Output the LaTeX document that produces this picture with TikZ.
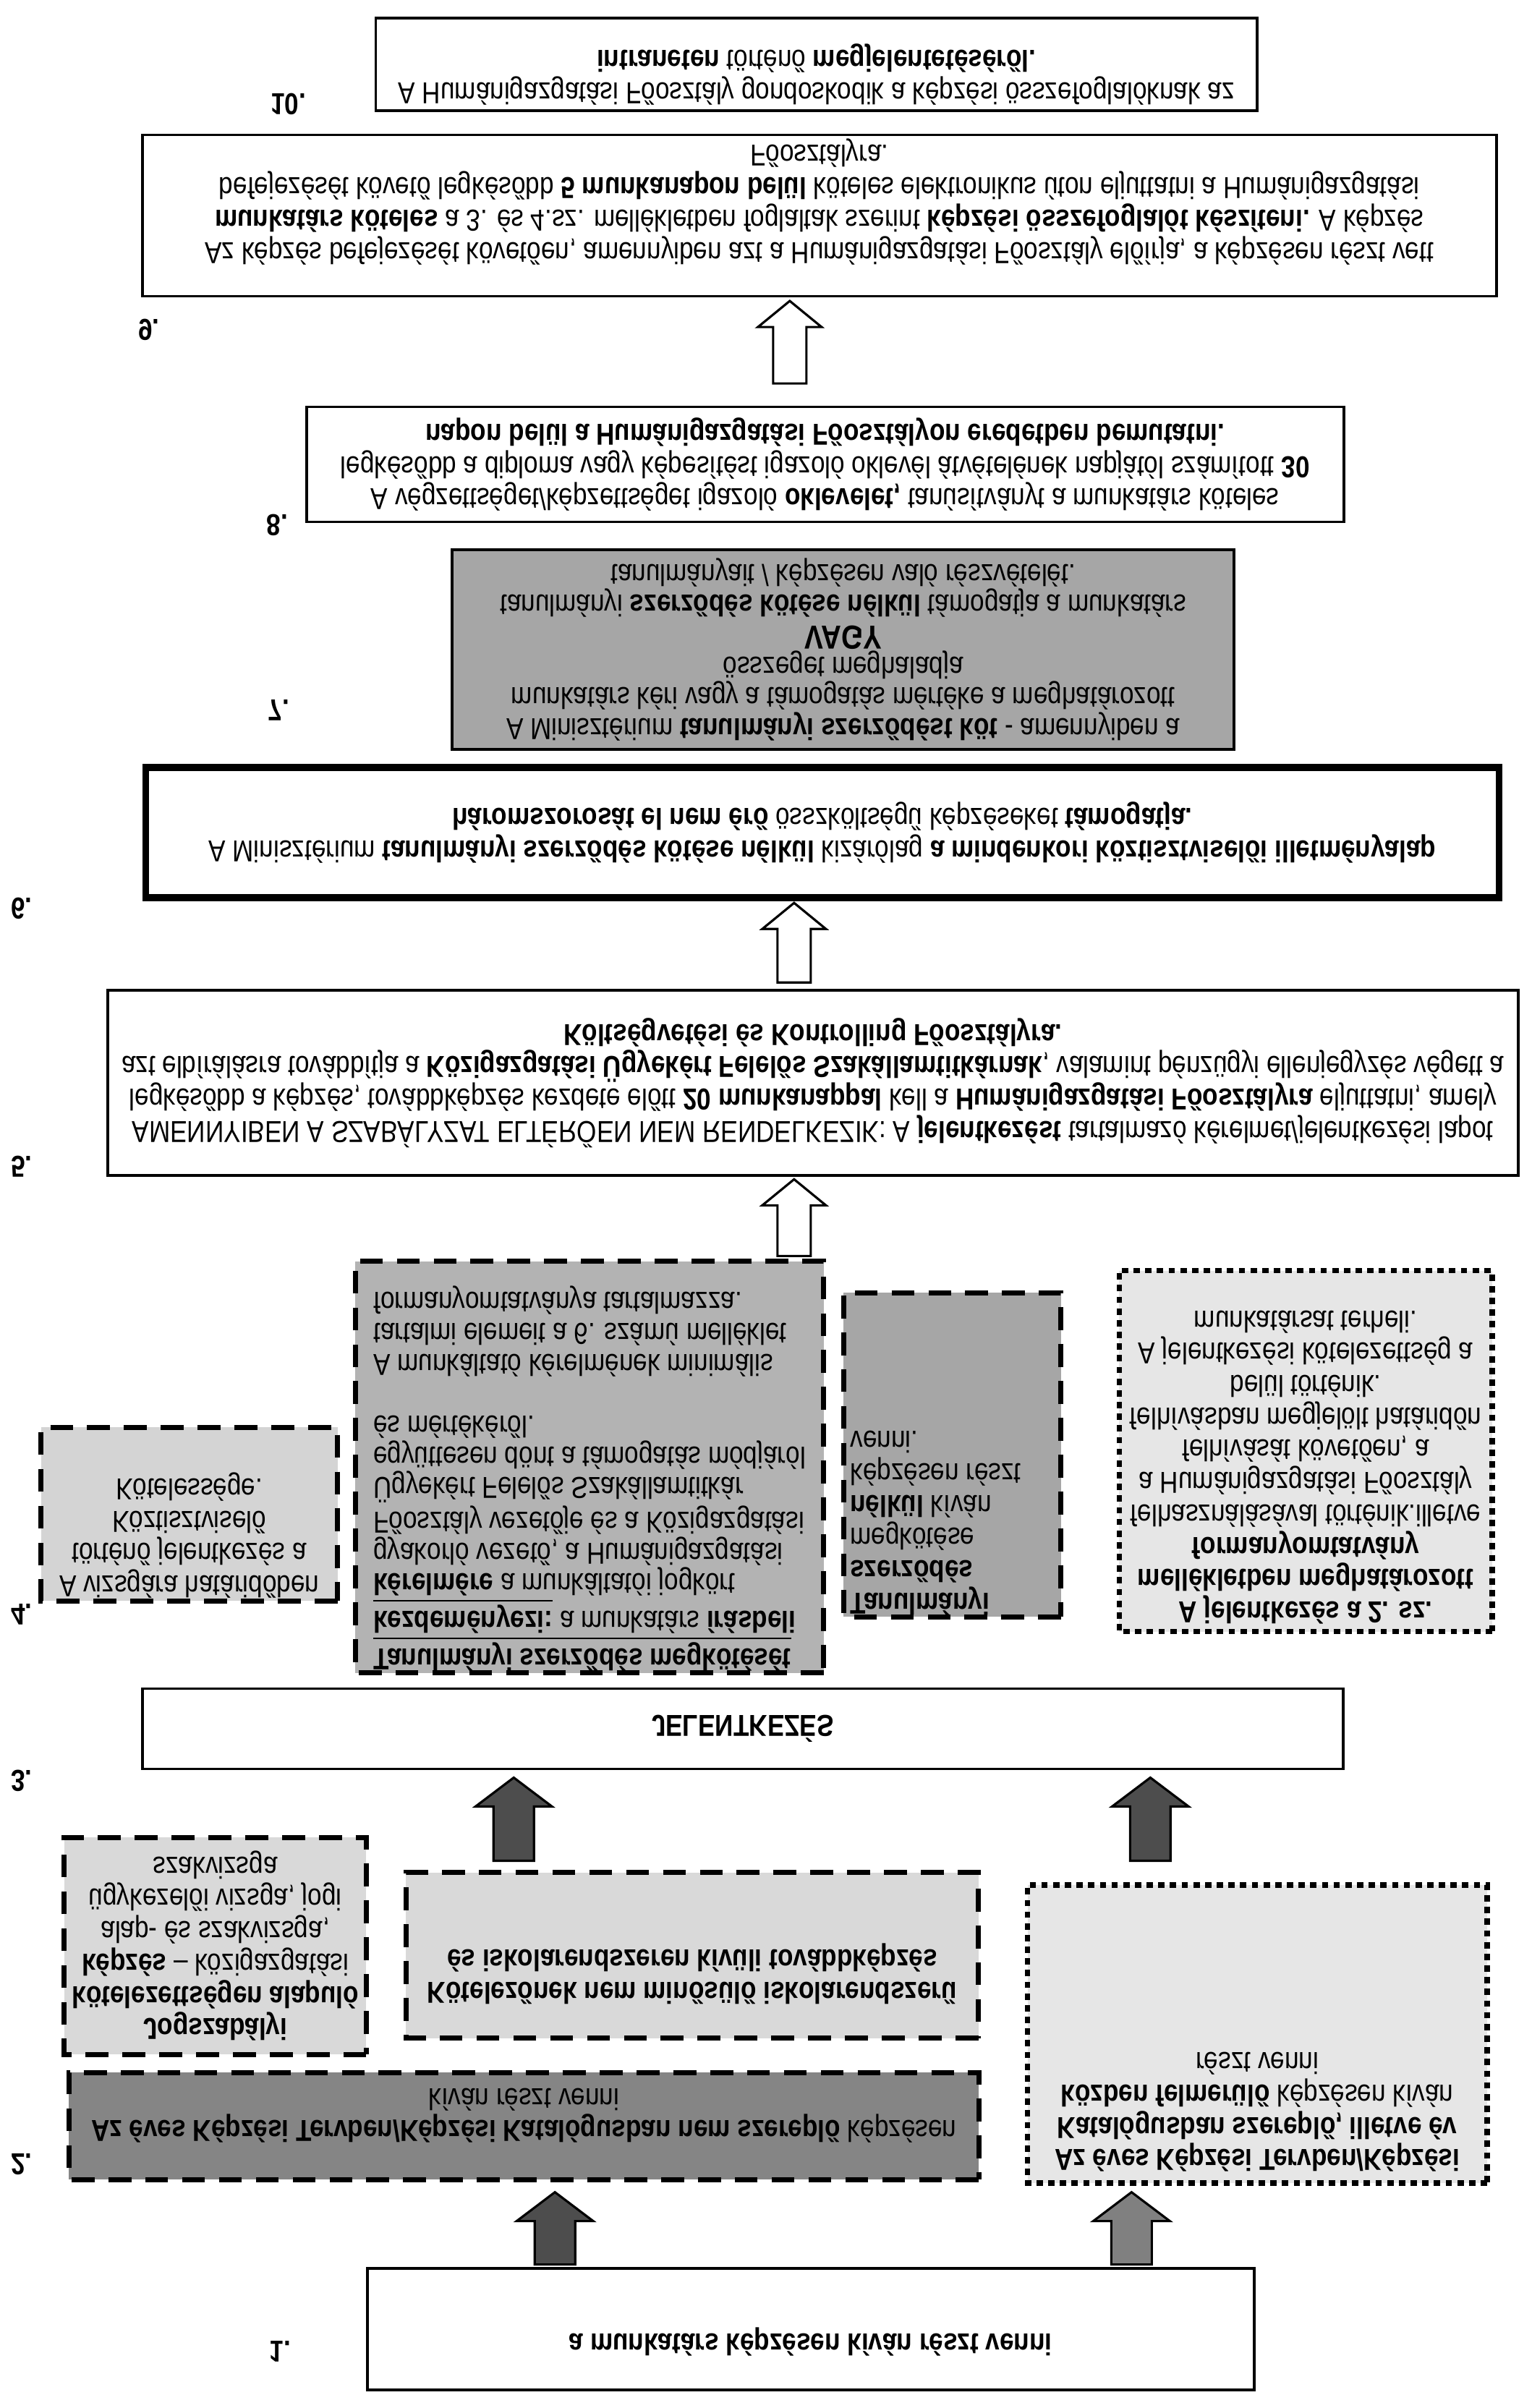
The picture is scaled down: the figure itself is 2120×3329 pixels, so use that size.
\documentclass[tikz,border=0pt]{standalone}
\usepackage{fontspec}
\setmainfont{Liberation Sans}
\usepackage{tikz}
\usetikzlibrary{calc}
\definecolor{greyA}{HTML}{A6A6A6}
\definecolor{greyB}{HTML}{B3B3B3}
\definecolor{greyC}{HTML}{D4D4D4}
\definecolor{greyD}{HTML}{D9D9D9}
\definecolor{greyE}{HTML}{E6E6E6}
\definecolor{greyF}{HTML}{858585}
\definecolor{arrowdark}{HTML}{4D4D4D}
\definecolor{arrowmid}{HTML}{808080}
\newcommand{\txtfont}{\fontsize{10}{10.7}\selectfont}
\newcommand{\tightfont}{\fontsize{10}{10.2}\selectfont}
% block arrow: style, tail, tip, half shaft, half head, head length
\newcommand{\blockarrow}[6]{%
  \draw[#1] ($(#2)+(-#4,0)$) -- ($(#3)+(-#4,#6)$) -- ($(#3)+(-#5,#6)$) -- (#3)
    -- ($(#3)+(#5,#6)$) -- ($(#3)+(#4,#6)$) -- ($(#2)+(#4,0)$) -- cycle;}
\tikzset{
  sz/.style 2 args={minimum width=#1*0.01cm, minimum height=#2*0.0084034cm},
  txtnode/.style={inner sep=0pt, align=center, font=\txtfont, text=black},
  plainbox/.style={txtnode, draw=black, line width=1.1pt, fill=white},
  thickbox/.style={plainbox, line width=2.6pt},
  dashbox/.style={txtnode, draw=black, line width=2pt, dash pattern=on 9pt off 5.5pt},
  dotbox/.style={txtnode, draw=black, line width=2.2pt, dash pattern=on 2.5pt off 2.1pt},
  numlab/.style={inner sep=0pt, font=\txtfont\bfseries},
  whitearrow/.style={draw=black, line width=0.9pt, fill=white},
  darkarrow/.style={draw=black, line width=0.9pt, fill=arrowdark},
  midarrow/.style={draw=black, line width=0.9pt, fill=arrowmid},
}
\begin{document}
\begin{tikzpicture}[x=0.01cm, y=0.0084034cm, yscale=-1.19,
  every node/.append style={transform shape}]
\useasboundingbox (0,0) rectangle (2120,3329);

% step 1
\node[plainbox, sz={1227}{168}] (b1) at (1122,3220) {};
\node[txtnode] (t1) at ($(b1.center)+(0,17)$) {\textbf{a munkatárs képzésen kíván részt venni}};
\node[numlab] (n1) at (388,3251) {1.};

% step 2
\node[dashbox, fill=greyF, sz={1259}{148}] (b2c) at (725,2939) {};
\node[txtnode] (t2c) at ($(b2c.center)+(0,-15)$)
  {\textbf{Az éves Képzési Tervben/Képzési Katalógusban nem szereplő} képzésen\\
   kíván részt venni};
\node[dotbox, fill=greyE, sz={636}{412}] (b2d) at (1740,2812) {};
\node[txtnode, anchor=north] (t2d) at ($(b2d.north)+(0,-20)$)
  {\textbf{Az éves Képzési Tervben/Képzési}\\
   \textbf{Katalógusban szereplő, illetve év}\\
   \textbf{közben felmerülő} képzésen kíván\\
   részt venni};
\node[dashbox, fill=greyD, sz={418}{300}] (b2a) at (298,2690)
  {\textbf{Jogszabályi}\\
   \textbf{kötelezettségen alapuló}\\
   \textbf{képzés} – közigazgatási\\
   alap- és szakvizsga,\\
   ügykezelői vizsga, jogi\\
   szakvizsga};
\node[dashbox, fill=greyD, sz={792}{229}] (b2b) at (958,2703) {};
\node[txtnode] (t2b) at ($(b2b.center)+(0,25)$)
  {\textbf{Kötelezőnek nem minősülő iskolarendszerű}\\
   \textbf{és iskolarendszeren kívüli továbbképzés}};
\node[numlab] (n2) at (30,2992) {2.};

\coordinate (a2ltail) at (768,3130);
\coordinate (a2ltip) at (768,3030);
\coordinate (a2rtail) at (1566,3130);
\coordinate (a2rtip) at (1566,3030);
\blockarrow{darkarrow}{a2ltail}{a2ltip}{28}{53}{40}
\blockarrow{midarrow}{a2rtail}{a2rtip}{28}{53}{40}

% step 3
\node[plainbox, sz={1662}{111}] (b3) at (1028,2390) {\textbf{JELENTKEZÉS}};
\node[numlab] (n3) at (30,2462) {3.};

\coordinate (a3ltail) at (711,2572);
\coordinate (a3ltip) at (711,2457);
\coordinate (a3rtail) at (1592,2572);
\coordinate (a3rtip) at (1592,2457);
\blockarrow{darkarrow}{a3ltail}{a3ltip}{28}{53}{40}
\blockarrow{darkarrow}{a3rtail}{a3rtip}{28}{53}{40}

% step 4
\node[dashbox, fill=greyC, sz={410}{240}] (b4a) at (262,2093) {};
\node[txtnode] (t4a) at ($(b4a.center)+(0,29)$)
  {A vizsgára határidőben\\
   történő jelentkezés a\\
   Köztisztviselő\\
   Kötelessége.};
\node[dashbox, fill=greyB, sz={648}{569}] (b4b) at (816,2028) {};
\node[txtnode, align=left, font=\tightfont] (t4b) at ($(b4b.center)+(0,16)$)
  {\underline{\textbf{Tanulmányi szerződés megkötését}}\\
   \underline{\textbf{kezdeményezi:}} a munkatárs \textbf{írásbeli}\\
   \textbf{kérelmére} a munkáltatói jogkört\\
   gyakorló vezető, a Humánigazgatási\\
   Főosztály vezetője és a Közigazgatási\\
   Ügyekért Felelős Szakállamtitkár\\
   együttesen dönt a támogatás módjáról\\
   és mértékéről.\\[10.2pt]
   A munkáltató kérelmének minimális\\
   tartalmi elemeit a 6. számú melléklet\\
   formanyomtatványa tartalmazza.};
\node[dashbox, fill=greyA, sz={301}{448}] (b4c) at (1318,2011) {};
\node[txtnode, align=left, anchor=north west] (t4c) at ($(b4c.north west)+(12,-6)$)
  {\textbf{Tanulmányi}\\
   \textbf{szerződés}\\
   megkötése\\
   \textbf{nélkül} kíván\\
   képzésen részt\\
   venni.};
\node[dotbox, fill=greyE, sz={516}{499}] (b4d) at (1807,2006) {};
\node[txtnode] (t4d) at ($(b4d.center)+(0,22)$)
  {\textbf{A jelentkezés a 2. sz.}\\
   \textbf{mellékletben meghatározott}\\
   \textbf{formanyomtatvány}\\
   felhasználásával történik.illetve\\
   a Humánigazgatási Főosztály\\
   felhívását követően, a\\
   felhívásban megjelölt határidőn\\
   belül történik.\\
   A jelentkezési kötelezettség a\\
   munkatársat terheli.};
\node[numlab] (n4) at (30,2232) {4.};

\coordinate (a5tail) at (1099,1736);
\coordinate (a5tip) at (1099,1630);
\blockarrow{whitearrow}{a5tail}{a5tip}{23}{44}{36}

% step 5
\node[plainbox, sz={1952}{256}] (b5) at (1125,1497)
  {AMENNYIBEN A SZABÁLYZAT ELTÉRŐEN NEM RENDELKEZIK: A \textbf{jelentkezést} tartalmazó kérelmet/jelentkezési lapot\\
   legkésőbb a képzés, továbbképzés kezdete előtt \textbf{20 munkanappal} kell a \textbf{Humánigazgatási Főosztályra} eljuttatni, amely\\
   azt elbírálásra továbbítja a \textbf{Közigazgatási Ügyekért Felelős Szakállamtitkárnak}, valamint pénzügyi ellenjegyzés végett a\\
   \textbf{Költségvetési és Kontrolling Főosztályra.}};
\node[numlab] (n5) at (30,1613) {5.};

\coordinate (a6tail) at (1099,1358);
\coordinate (a6tip) at (1099,1248);
\blockarrow{whitearrow}{a6tail}{a6tip}{23}{44}{36}

% step 6
\node[thickbox, sz={1873}{180}] (b6) at (1138,1151)
  {A Minisztérium \textbf{tanulmányi szerződés kötése nélkül} kizárólag \textbf{a mindenkori köztisztviselői illetményalap}\\
   \textbf{háromszorosát el nem érő} összköltségű képzéseket \textbf{támogatja.}};
\node[numlab] (n6) at (30,1256) {6.};

% step 7
\node[plainbox, fill=greyA, font=\tightfont, sz={1082}{276}] (b7) at (1167,898)
  {A Minisztérium \textbf{tanulmányi szerződést köt} - amennyiben a\\
   munkatárs kéri vagy a támogatás mértéke a meghatározott\\
   összeget meghaladja\\
   {\fontsize{11}{10.2}\selectfont\textbf{VAGY}}\\
   tanulmányi \textbf{szerződés kötése nélkül} támogatja a munkatárs\\
   tanulmányait / képzésen való részvételét.};
\node[numlab] (n7) at (386,982) {7.};

% step 8
\node[plainbox, sz={1435}{159}] (b8) at (1142,642)
  {A végzettséget/képzettséget igazoló \textbf{oklevelet,} tanúsítványt a munkatárs köteles\\
   legkésőbb a diploma vagy képesítést igazoló oklevél átvételének napjától számított \textbf{30}\\
   \textbf{napon belül a Humánigazgatási Főosztályon eredetben bemutatni.}};
\node[numlab] (n8) at (384,726) {8.};

\coordinate (a9tail) at (1093,530);
\coordinate (a9tip) at (1093,416);
\blockarrow{whitearrow}{a9tail}{a9tip}{23}{44}{36}

% step 9
\node[plainbox, sz={1874}{223}] (b9) at (1134,298) {};
\node[txtnode] (t9) at ($(b9.center)+(0,-19)$)
  {Az képzés befejezését követően, amennyiben azt a Humánigazgatási Főosztály előírja, a képzésen részt vett\\
   \textbf{munkatárs köteles} a 3. és 4.sz. mellékletben foglaltak szerint \textbf{képzési összefoglalót készíteni.} A képzés\\
   befejezését követő legkésőbb \textbf{5 munkanapon belül} köteles elektronikus úton eljuttatni a Humánigazgatási\\
   Főosztályra.};
\node[numlab] (n9) at (206,456) {9.};

% step 10
\node[plainbox, sz={1220}{128}] (b10) at (1130,89) {};
\node[txtnode] (t10) at ($(b10.center)+(0,14)$)
  {A Humánigazgatási Főosztály gondoskodik a képzési összefoglalóknak az\\
   \textbf{intraneten} történő \textbf{megjelentetéséről.}};
\node[numlab] (n10) at (399,144) {10.};
\end{tikzpicture}
\end{document}
